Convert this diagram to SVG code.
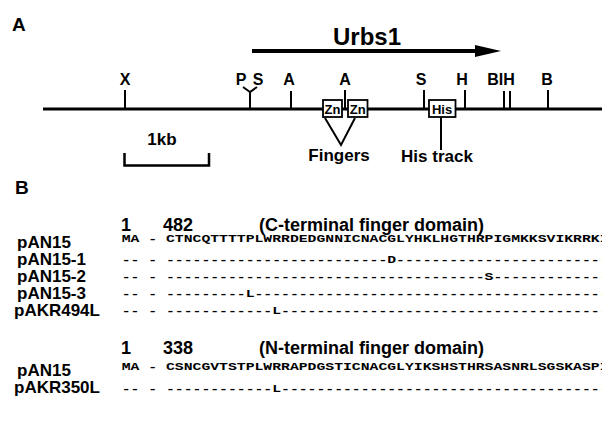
<svg xmlns="http://www.w3.org/2000/svg" width="602" height="429" viewBox="0 0 602 429">
<style>
text{font-family:"Liberation Sans",Arial,sans-serif;font-weight:bold;fill:#000}
.pl{font-size:19px}
.site{font-size:16px;text-anchor:middle}
.lbl{font-size:17px}
.hdr{font-size:18px}
.seq{font-family:"Liberation Mono","Courier New",monospace;font-size:11.5px}
.tk{stroke:#000;stroke-width:2;fill:none}
.box{fill:#fff;stroke:#000;stroke-width:1.8}
.zn{font-size:13px;text-anchor:middle}
</style>
<rect width="602" height="429" fill="#fff"/>
<text class="pl" x="12" y="31">A</text>
<g id="urbs1">
<line x1="252" y1="51" x2="477" y2="51" stroke="#000" stroke-width="4"/>
<polygon points="475,45 501,51 475,57" fill="#000"/>
<text x="367" y="45" font-size="24" text-anchor="middle">Urbs1</text>
</g>
<g id="map">
<line x1="43" y1="109" x2="602" y2="109" stroke="#000" stroke-width="3"/>
</g>
<g id="sites">
<line class="tk" x1="125" y1="90" x2="125" y2="109"/><text class="site" x="125" y="85">X</text>
<path class="tk" d="M243,87 L250,92 L257,87 M250,92 V109"/><text class="site" x="241" y="85">P</text><text class="site" x="258" y="85">S</text>
<line class="tk" x1="291" y1="91" x2="291" y2="109"/><text class="site" x="289" y="85">A</text>
<line class="tk" x1="345" y1="90" x2="345" y2="109"/><text class="site" x="345" y="85">A</text>
<line class="tk" x1="424" y1="90" x2="424" y2="109"/><text class="site" x="421" y="85">S</text>
<line class="tk" x1="465" y1="90" x2="465" y2="109"/><text class="site" x="462" y="85">H</text>
<line class="tk" x1="504" y1="91" x2="504" y2="109"/><line class="tk" x1="510" y1="91" x2="510" y2="109"/><text class="site" x="501" y="85">BIH</text>
<line class="tk" x1="548" y1="90" x2="548" y2="109"/><text class="site" x="547" y="85">B</text>
</g>
<g id="fingers">
<rect class="box" x="323" y="100" width="19" height="17"/><text class="zn" x="332.5" y="114">Zn</text>
<rect class="box" x="348" y="100" width="19.5" height="17"/><text class="zn" x="357.7" y="114">Zn</text>
<path class="tk" d="M325,118 L341,145 L355,118"/>
<text class="lbl" x="339" y="161" text-anchor="middle">Fingers</text>
</g>
<g id="histrack">
<rect class="box" x="429" y="100" width="26.5" height="17"/><text class="zn" x="442" y="114">His</text>
<line class="tk" x1="441" y1="117" x2="441" y2="150"/>
<text class="lbl" x="437" y="162" text-anchor="middle">His track</text>
</g>
<g id="scale">
<text class="lbl" x="162" y="145" text-anchor="middle">1kb</text>
<path d="M124.5,153 V165.5 H209 V153" stroke="#000" stroke-width="2.5" fill="none"/>
</g>
<text class="pl" x="15" y="194" font-size="17">B</text>
<g id="cterm">
<text class="hdr" x="121" y="231">1</text><text class="hdr" x="163" y="231">482</text><text class="hdr" x="259" y="231">(C-terminal finger domain)</text>
<text class="lbl" x="17" y="248">pAN15</text>
<text class="seq" x="121.75" y="242" textLength="486.75" lengthAdjust="spacingAndGlyphs">MA - CTNCQTTTTPLWRRDEDGNNICNACGLYHKLHGTHRPIGMKKSVIKRRKI</text>
<text class="lbl" x="17" y="264.5">pAN15-1</text>
<text class="seq" x="121.75" y="262.5" textLength="486.75" lengthAdjust="spacingAndGlyphs">-- - -------------------------D------------------------</text>
<text class="lbl" x="17" y="281.5">pAN15-2</text>
<text class="seq" x="121.75" y="279.5" textLength="486.75" lengthAdjust="spacingAndGlyphs">-- - ------------------------------------S-------------</text>
<text class="lbl" x="17" y="298.5">pAN15-3</text>
<text class="seq" x="121.75" y="296.5" textLength="486.75" lengthAdjust="spacingAndGlyphs">-- - ---------L----------------------------------------</text>
<text class="lbl" x="14" y="316">pAKR494L</text>
<text class="seq" x="121.75" y="314" textLength="486.75" lengthAdjust="spacingAndGlyphs">-- - ------------L-------------------------------------</text>
</g>
<g id="nterm">
<text class="hdr" x="121" y="354">1</text><text class="hdr" x="163" y="354">338</text><text class="hdr" x="259" y="354">(N-terminal finger domain)</text>
<text class="lbl" x="17" y="376">pAN15</text>
<text class="seq" x="121.75" y="370" textLength="486.75" lengthAdjust="spacingAndGlyphs">MA - CSNCGVTSTPLWRRAPDGSTICNACGLYIKSHSTHRSASNRLSGSKASPI</text>
<text class="lbl" x="14" y="393">pAKR350L</text>
<text class="seq" x="121.75" y="391.5" textLength="486.75" lengthAdjust="spacingAndGlyphs">-- - ------------L-------------------------------------</text>
</g>
</svg>
